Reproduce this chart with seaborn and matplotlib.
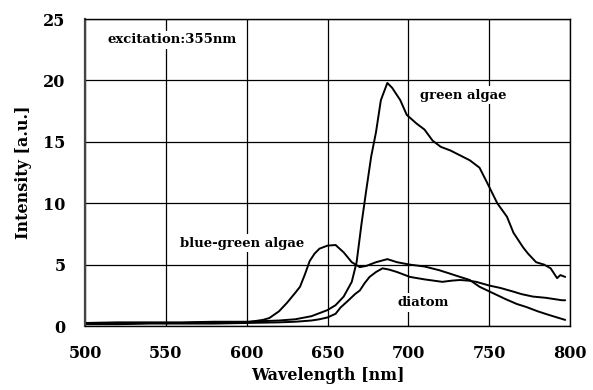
import seaborn as sns
import pandas as pd
import matplotlib.pyplot as plt
import numpy as np

sns.set_style('white')
plt.rcParams['font.family'] = ['DejaVu Serif']
plt.rcParams['font.weight'] = 'bold'
plt.rcParams['text.color'] = 'black'
plt.rcParams['axes.labelcolor'] = 'black'
plt.rcParams['xtick.color'] = 'black'
plt.rcParams['ytick.color'] = 'black'

# spectra (wavelength nm, intensity a.u.)
green_wl = [500, 520, 540, 560, 580, 600, 610, 620, 630, 640, 650, 655, 660, 665, 668,
            671, 674, 677, 680, 683, 687, 690, 695, 699, 705, 710, 715, 720, 726, 732,
            738, 744, 749, 755, 761, 765, 771, 774, 779, 784, 788, 792, 794, 797]
green_int = [0.25, 0.3, 0.3, 0.3, 0.35, 0.35, 0.4, 0.45, 0.55, 0.8, 1.3, 1.7, 2.4, 3.6, 5.2,
             8.3, 11.1, 13.8, 15.8, 18.4, 19.8, 19.4, 18.4, 17.2, 16.5, 16.0, 15.1, 14.6, 14.3, 13.9,
             13.5, 12.9, 11.6, 10.0, 8.9, 7.6, 6.4, 5.9, 5.2, 5.0, 4.7, 3.9, 4.15, 4.0]

bluegreen_wl = [500, 520, 540, 560, 580, 600, 605, 610, 614, 620, 625, 630, 633, 636, 639,
                642, 645, 650, 655, 660, 665, 670, 674, 680, 687, 693, 701, 710, 719, 725,
                732, 738, 744, 752, 760, 767, 773, 780, 787, 792, 797]
bluegreen_int = [0.2, 0.2, 0.25, 0.25, 0.3, 0.3, 0.4, 0.5, 0.65, 1.2, 1.9, 2.7, 3.2, 4.2, 5.3,
                 5.9, 6.3, 6.55, 6.6, 6.0, 5.2, 4.8, 4.9, 5.2, 5.45, 5.2, 5.0, 4.85, 4.55, 4.3,
                 4.0, 3.75, 3.2, 2.7, 2.2, 1.8, 1.55, 1.2, 0.9, 0.7, 0.5]

diatom_wl = [500, 520, 540, 560, 580, 600, 620, 630, 640, 645, 650, 655, 658, 663, 667,
             670, 673, 676, 680, 684, 688, 693, 701, 710, 721, 727, 732, 737, 742, 750,
             757, 765, 770, 777, 785, 790, 795, 797]
diatom_int = [0.15, 0.15, 0.2, 0.2, 0.2, 0.25, 0.3, 0.35, 0.45, 0.55, 0.7, 1.0, 1.5, 2.1, 2.6,
              2.9, 3.5, 4.0, 4.4, 4.7, 4.6, 4.4, 4.0, 3.8, 3.6, 3.7, 3.75, 3.7, 3.6, 3.3,
              3.1, 2.8, 2.6, 2.4, 2.3, 2.2, 2.1, 2.1]

data = pd.concat([
    pd.DataFrame({'wl': green_wl, 'I': green_int, 'sample': 'green algae'}),
    pd.DataFrame({'wl': bluegreen_wl, 'I': bluegreen_int, 'sample': 'blue-green algae'}),
    pd.DataFrame({'wl': diatom_wl, 'I': diatom_int, 'sample': 'diatom'}),
])

fig = plt.figure(figsize=(5.93, 3.9), dpi=100)
ax = fig.add_axes([0.1433, 0.164, 0.818, 0.787])

sns.lineplot(data=data, x='wl', y='I', hue='sample', units='sample', estimator=None,
             palette=['black', 'black', 'black'], linewidth=1.4, legend=False, ax=ax)

ax.set_xlim(500, 800)
ax.set_ylim(0, 25)
ax.set_xticks(np.arange(500, 801, 50))
ax.set_yticks(np.arange(0, 26, 5))
ax.grid(True, color='black', linewidth=0.9)
ax.set_axisbelow(True)
ax.tick_params(axis='x', length=0, labelsize=11.5, pad=14)
ax.tick_params(axis='y', length=0, labelsize=11.5, pad=14)
for lab in ax.get_xticklabels() + ax.get_yticklabels():
    lab.set_fontweight('bold')
for side in ['top', 'right', 'bottom']:
    ax.spines[side].set_color('black')
    ax.spines[side].set_linewidth(1.0)
ax.spines['left'].set_color('#444444')
ax.spines['left'].set_linewidth(1.6)

ax.set_xlabel('Wavelength [nm]', fontsize=11.5, fontweight='bold', labelpad=3)
ax.set_ylabel('Intensity [a.u.]', fontsize=11.5, fontweight='bold', labelpad=8)

box = dict(facecolor='white', edgecolor='none', pad=2)
ax.text(554, 23.3, 'excitation:355nm', ha='center', va='center', fontsize=9.5, fontweight='bold', bbox=box)
ax.text(734, 18.8, 'green algae', ha='center', va='center', fontsize=9.5, fontweight='bold', bbox=box)
ax.text(597, 6.75, 'blue-green algae', ha='center', va='center', fontsize=9.5, fontweight='bold', bbox=box)
ax.text(709, 1.9, 'diatom', ha='center', va='center', fontsize=9.5, fontweight='bold', bbox=box)

plt.savefig('out.png', dpi=100)
